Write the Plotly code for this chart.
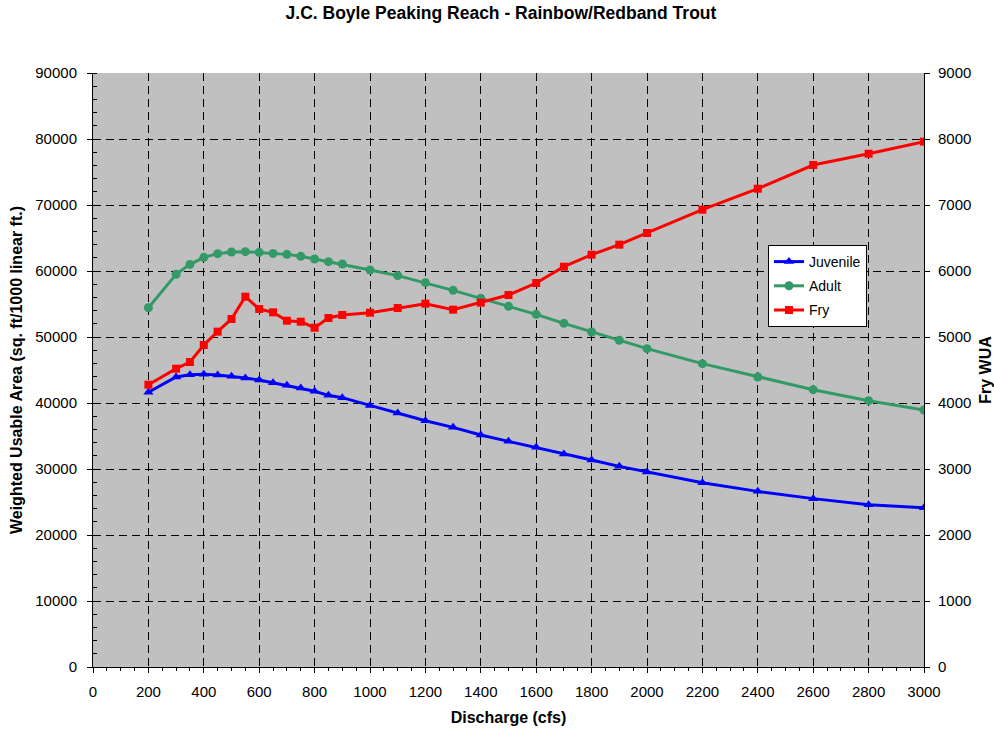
import plotly.graph_objects as go

discharge = [200, 300, 350, 400, 450, 500, 550, 600, 650, 700, 750, 800, 850, 900,
             1000, 1100, 1200, 1300, 1400, 1500, 1600, 1700, 1800, 1900, 2000,
             2200, 2400, 2600, 2800, 3000]

juvenile = [41620, 43940, 44290, 44340, 44240, 44040, 43790, 43480, 43080, 42680,
            42270, 41770, 41160, 40810, 39640, 38480, 37320, 36310, 35150, 34190,
            33280, 32270, 31360, 30400, 29550, 27930, 26610, 25510, 24600, 24140]

adult = [54440, 59500, 61000, 62070, 62630, 62880, 62930, 62830, 62670, 62520,
         62220, 61820, 61410, 61060, 60150, 59300, 58230, 57070, 55860, 54650,
         53430, 52070, 50760, 49490, 48230, 45960, 43940, 42020, 40350, 38940]

fry = [4277, 4520, 4621, 4879, 5081, 5273, 5611, 5424, 5374, 5247,
       5232, 5141, 5288, 5333, 5368, 5439, 5505, 5414, 5520, 5636,
       5818, 6065, 6247, 6399, 6576, 6929, 7247, 7606, 7777, 7960]

title_text = "J.C. Boyle Peaking Reach - Rainbow/Redband Trout"
x_title = "Discharge (cfs)"
y_title = "Weighted Usable Area (sq. ft/1000 linear ft.)"
y2_title = "Fry WUA"
font_family = "Liberation Sans, Arial, sans-serif"

fig = go.Figure()
fig.add_trace(go.Scatter(x=discharge, y=juvenile, name="Juvenile", mode="lines+markers",
                         legendgroup="j",
                         line=dict(color="#0000FF", width=3),
                         marker=dict(symbol="triangle-up", size=9, color="#0000FF")))
fig.add_trace(go.Scatter(x=discharge, y=adult, name="Adult", mode="lines+markers",
                         legendgroup="a",
                         line=dict(color="#339966", width=3),
                         marker=dict(symbol="circle", size=9, color="#339966")))
fig.add_trace(go.Scatter(x=discharge, y=fry, name="Fry", mode="lines+markers", yaxis="y2",
                         legendgroup="f",
                         line=dict(color="#FF0000", width=3),
                         marker=dict(symbol="square", size=8, color="#FF0000")))

plot_l, plot_r, plot_t, plot_b = 93, 924, 73, 667
W, H = 994, 729

fig.update_layout(
    width=W, height=H,
    margin=dict(l=plot_l, r=W - plot_r, t=plot_t, b=H - plot_b, autoexpand=False),
    paper_bgcolor="white", plot_bgcolor="#C0C0C0",
    font=dict(family=font_family, size=15, color="black"),
    title=dict(text="<b>" + title_text + "</b>", x=0.504, xanchor="center",
               xref="container", yref="container",
               y=1 - 13 / H, yanchor="middle", font=dict(size=17.5)),
    xaxis=dict(range=[0, 3000], dtick=200, tick0=0, showgrid=True,
               gridcolor="black", griddash="8px,5px", gridwidth=1,
               showline=True, linecolor="black", linewidth=1, mirror=False,
               ticks="outside", ticklen=5, tickcolor="black", ticklabelstandoff=6,
               minor=dict(dtick=50, ticks="outside", ticklen=3, tickcolor="black", showgrid=False),
               zeroline=False, automargin=False,
               title=dict(text="<b>" + x_title + "</b>", font=dict(size=16), standoff=12)),
    yaxis=dict(range=[0, 90000], dtick=10000, showgrid=True, tickformat="d",
               gridcolor="black", griddash="8px,5px", gridwidth=1,
               showline=True, linecolor="black", linewidth=1,
               ticks="outside", ticklen=5, tickcolor="black", ticklabelstandoff=7,
               minor=dict(dtick=2000, ticks="inside", ticklen=4, tickcolor="black", showgrid=False),
               zeroline=False, automargin=False,
               title=dict(text="<b>" + y_title + "</b>", font=dict(size=16), standoff=8)),
    yaxis2=dict(range=[0, 9000], dtick=1000, overlaying="y", side="right", tickformat="d",
                showgrid=False, showline=True, linecolor="black", linewidth=1,
                ticks="outside", ticklen=5, tickcolor="black", ticklabelstandoff=5,
                zeroline=False, automargin=False,
                title=dict(text="<b>" + y2_title + "</b>", font=dict(size=16), standoff=11)),
    legend=dict(x=(768 - plot_l) / (plot_r - plot_l),
                y=(plot_b - 245) / (plot_b - plot_t),
                xanchor="left", yanchor="top", xref="paper", yref="paper",
                bgcolor="white", bordercolor="black", borderwidth=1,
                font=dict(size=14), traceorder="grouped", tracegroupgap=3),
    showlegend=True,
)

fig.write_html("out.html", config={"displayModeBar": False},
               post_script="document.body.style.margin='0px';")
